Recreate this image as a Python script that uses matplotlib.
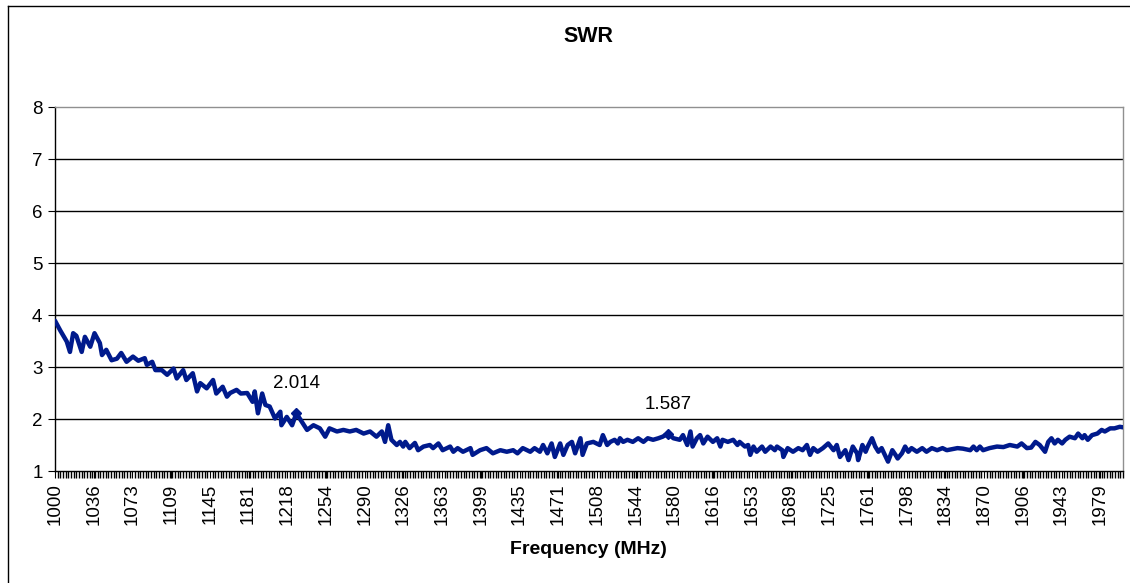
import numpy as np
import matplotlib
matplotlib.use("Agg")
import matplotlib.pyplot as plt
from matplotlib.lines import Line2D

plt.rcParams['font.family'] = ['Liberation Sans', 'DejaVu Sans']

# ---- data (frequency in MHz, SWR) ----
freq_mhz = [
    1000, 1005, 1011, 1014, 1017, 1020, 1025, 1028, 1033, 1037, 1042, 1044, 1048, 1053, 1058,
    1062, 1067, 1073, 1078, 1084, 1086, 1091, 1094, 1100, 1105, 1111, 1114, 1120, 1123, 1129,
    1133, 1136, 1142, 1148, 1151, 1157, 1161, 1164, 1170, 1174, 1180, 1185, 1187, 1190, 1194,
    1197, 1201, 1206, 1211, 1212, 1217, 1222, 1226, 1231, 1236, 1242, 1248, 1253, 1257, 1264,
    1270, 1276, 1282, 1289, 1295, 1301, 1306, 1309, 1312, 1315, 1320, 1323,
    1326, 1328, 1332, 1337, 1340, 1345, 1351, 1354, 1359, 1363, 1370, 1373, 1377, 1382, 1389,
    1391, 1398, 1404, 1410, 1417, 1423, 1429, 1433, 1438, 1445, 1449, 1454, 1457, 1461, 1465,
    1468, 1473, 1476, 1480, 1484, 1487, 1492, 1494,
    1498, 1504, 1510, 1513, 1517, 1520, 1524, 1527, 1529, 1532, 1536, 1541, 1546, 1551, 1555,
    1560, 1565, 1569, 1574, 1579, 1585, 1588, 1592, 1595, 1597, 1601, 1604, 1607, 1611, 1616,
    1620, 1623, 1625, 1630, 1635, 1639, 1641, 1646, 1649, 1651, 1654, 1657, 1662, 1665, 1670,
    1674,
    1676, 1681, 1682, 1686, 1691, 1696, 1700, 1704, 1707, 1710, 1714, 1719, 1724, 1729, 1732,
    1735, 1740, 1743, 1747, 1751, 1752, 1756, 1759, 1761, 1765, 1768, 1771, 1774, 1777, 1780,
    1784, 1787, 1789, 1793, 1796, 1799, 1802, 1807, 1812, 1816, 1821, 1826, 1831, 1835, 1840,
    1845, 1850, 1857, 1860, 1863, 1866, 1869, 1875, 1882, 1888, 1894, 1901, 1905, 1910, 1914,
    1918, 1922, 1927, 1930, 1933, 1936, 1939, 1943, 1946, 1950, 1955, 1958, 1962, 1964, 1967,
    1971, 1976, 1980, 1983, 1988, 1992, 1997, 2000,
]
swr = [
    3.89, 3.70, 3.49, 3.29, 3.65, 3.60, 3.29, 3.58, 3.39, 3.65, 3.46, 3.23, 3.33, 3.13, 3.16,
    3.27, 3.10, 3.20, 3.12, 3.17, 3.04, 3.10, 2.94, 2.94, 2.85, 2.97, 2.78, 2.94, 2.75, 2.88,
    2.53, 2.69, 2.59, 2.75, 2.49, 2.62, 2.43, 2.50, 2.56, 2.49, 2.50, 2.33, 2.53, 2.11, 2.49,
    2.27, 2.24, 2.01, 2.14, 1.88, 2.04, 1.88, 2.11, 1.95, 1.79, 1.88, 1.82, 1.66, 1.82, 1.76,
    1.79, 1.76, 1.79, 1.72, 1.76, 1.66, 1.76, 1.56, 1.88, 1.60, 1.50, 1.56,
    1.47, 1.56, 1.44, 1.54, 1.40, 1.47, 1.50, 1.44, 1.53, 1.40, 1.47, 1.37, 1.44, 1.37, 1.44,
    1.31, 1.40, 1.44, 1.34, 1.40, 1.37, 1.40, 1.34, 1.44, 1.37, 1.44, 1.37, 1.50, 1.34, 1.53,
    1.27, 1.53, 1.31, 1.50, 1.56, 1.34, 1.63, 1.31,
    1.53, 1.56, 1.50, 1.69, 1.50, 1.56, 1.60, 1.53, 1.63, 1.56, 1.60, 1.56, 1.63, 1.56, 1.63,
    1.60, 1.63, 1.66, 1.72, 1.63, 1.60, 1.69, 1.50, 1.76, 1.47, 1.63, 1.69, 1.53, 1.66, 1.56,
    1.63, 1.47, 1.60, 1.56, 1.60, 1.50, 1.56, 1.47, 1.50, 1.31, 1.47, 1.37, 1.47, 1.37, 1.47,
    1.40,
    1.47, 1.40, 1.27, 1.44, 1.37, 1.44, 1.40, 1.50, 1.31, 1.44, 1.37, 1.44, 1.53, 1.40, 1.50,
    1.27, 1.40, 1.21, 1.47, 1.34, 1.21, 1.50, 1.37, 1.47, 1.63, 1.47, 1.37, 1.44, 1.31, 1.18,
    1.40, 1.31, 1.24, 1.34, 1.47, 1.37, 1.44, 1.37, 1.44, 1.37, 1.44, 1.40, 1.44, 1.40, 1.42,
    1.44, 1.43, 1.40, 1.47, 1.40, 1.47, 1.40, 1.44, 1.47, 1.46, 1.50, 1.47, 1.53, 1.44, 1.45,
    1.56, 1.50, 1.37, 1.56, 1.63, 1.53, 1.60, 1.53, 1.60, 1.66, 1.63, 1.72, 1.63, 1.69, 1.60,
    1.69, 1.72, 1.79, 1.76, 1.82, 1.82, 1.85, 1.84,
]
tick_labels = ['1000', '1036', '1073', '1109', '1145', '1181', '1218', '1254', '1290',
               '1326', '1363', '1399', '1435', '1471', '1508', '1544', '1580', '1616',
               '1653', '1689', '1725', '1761', '1798', '1834', '1870', '1906', '1943', '1979']
label_freqs = [1226, 1574]
label_vals = [2.11, 1.72]
label_texts = ['2.014', '1.587']

# sweep: 801 points, 1000..2000 MHz in 1.25 MHz steps (category axis)
step = 1.25
n_cat = 801

def to_cat(f):
    return (np.asarray(f, dtype=float) - 1000.0) / step

fig = plt.figure(figsize=(11.3, 5.83), dpi=100)
ax = fig.add_axes([55 / 1130, (583 - 471) / 583, (1123 - 55) / 1130, (471 - 107) / 583])

navy = '#001a8c'
ax.plot(to_cat(freq_mhz), swr, color=navy, lw=3.2, solid_joinstyle='round',
        solid_capstyle='round', zorder=3)
ax.plot(to_cat(label_freqs), label_vals, linestyle='none', marker='D', ms=5,
        color=navy, zorder=4)
for f, v, t in zip(label_freqs, label_vals, label_texts):
    ax.annotate(t, xy=(to_cat(f), v), xytext=(0, 15), textcoords='offset points',
                ha='center', va='bottom', fontsize=13.5)

ax.set_xlim(0, n_cat - 1)
ax.set_ylim(1, 8)
ax.set_yticks(range(1, 9))
ax.set_yticklabels([str(i) for i in range(1, 9)])
ax.set_xticks(np.arange(len(tick_labels)) * 29)
ax.set_xticklabels(tick_labels, rotation=90)
ax.set_xticks(np.arange(0, n_cat, 2), minor=True)

ax.tick_params(axis='both', labelsize=13.5, direction='out', length=5, width=0.8, colors='black')
ax.tick_params(axis='y', pad=4)
ax.tick_params(axis='x', which='major', pad=4)
ax.tick_params(axis='x', which='minor', length=5, width=1.0)

for y in range(2, 8):
    ax.axhline(y, color='black', lw=1.0, zorder=1)

ax.spines['left'].set_color('black')
ax.spines['bottom'].set_color('black')
ax.spines['top'].set_color('#909090')
ax.spines['right'].set_color('#909090')
for s in ax.spines.values():
    s.set_linewidth(1.0)

fig.text(588 / 1130, 1 - 37 / 583, 'SWR', ha='center', va='center', fontsize=15.5,
         fontweight='bold')
fig.text(588 / 1130, 1 - 549 / 583, 'Frequency (MHz)', ha='center', va='center',
         fontsize=14, fontweight='bold')

# outer chart border (left and top edges visible)
fig.add_artist(Line2D([8 / 1130, 8 / 1130], [0, 1 - 6 / 583], transform=fig.transFigure,
                      color='black', lw=1.0))
fig.add_artist(Line2D([8 / 1130, 1], [1 - 6 / 583, 1 - 6 / 583], transform=fig.transFigure,
                      color='black', lw=1.0))

fig.savefig('out.png', dpi=100)
